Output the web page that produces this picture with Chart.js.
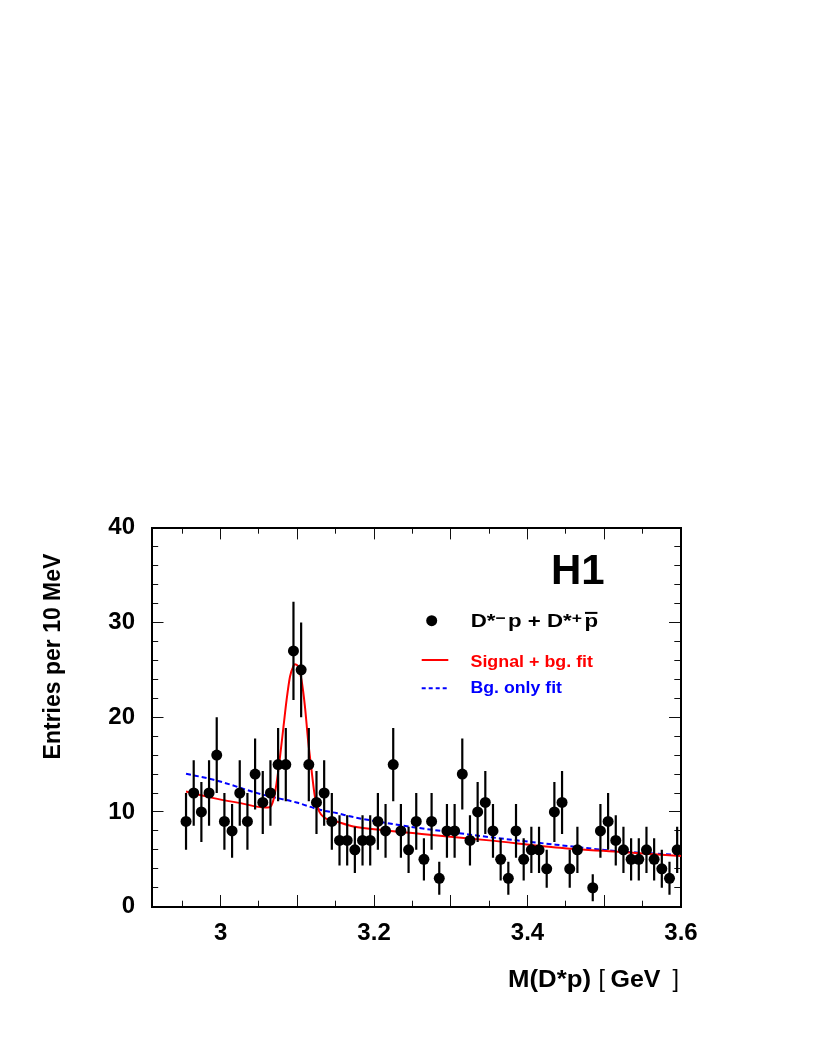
<!DOCTYPE html>
<html>
<head>
<meta charset="utf-8">
<script src="https://cdn.jsdelivr.net/npm/chart.js@4.4.1/dist/chart.umd.min.js"></script>
<style>
html,body{margin:0;padding:0;background:#fff;}
canvas{display:block;}
</style>
</head>
<body>
<canvas id="c" width="817" height="1058"></canvas>
<script>
// ---- data ----
const binCenters = [2.955,2.965,2.975,2.985,2.995,3.005,3.015,3.025,3.035,3.045,3.055,3.065,3.075,3.085,3.095,3.105,3.115,3.125,3.135,3.145,3.155,3.165,3.175,3.185,3.195,3.205,3.215,3.225,3.235,3.245,3.255,3.265,3.275,3.285,3.295,3.305,3.315,3.325,3.335,3.345,3.355,3.365,3.375,3.385,3.395,3.405,3.415,3.425,3.435,3.445,3.455,3.465,3.475,3.485,3.495,3.505,3.515,3.525,3.535,3.545,3.555,3.565,3.575,3.585,3.595];
const counts = [9,12,10,12,16,9,8,12,9,14,11,12,15,15,27,25,15,11,12,9,7,7,6,7,7,9,8,15,8,6,9,5,9,3,8,8,14,7,10,11,8,5,3,8,5,6,6,4,10,11,4,6,null,2,8,9,7,6,5,5,6,5,4,3,6];

const sigFitX = [2.955,2.991,3.026,3.058,3.064,3.069,3.073,3.0775,3.082,3.086,3.0905,3.095,3.097,3.101,3.1055,3.110,3.114,3.119,3.123,3.1285,3.136,3.151,3.173,3.216,3.259,3.303,3.350,3.437,3.523,3.600];
const sigFitY = [12.16,11.46,10.93,10.47,10.5,11.3,13.05,15.85,19.0,21.8,24.3,25.4,25.6,25.35,23.9,21.1,17.6,14.1,11.6,10.05,9.36,9.0,8.47,8.05,7.7,7.35,7.0,6.26,5.77,5.36];

const bgFitX = [2.955,2.991,3.056,3.099,3.1295,3.151,3.173,3.216,3.259,3.303,3.350,3.437,3.523,3.600];
const bgFitY = [14.03,13.4,11.8,11.0,10.23,9.88,9.46,8.83,8.3,7.84,7.35,6.54,5.83,5.45];

const xMajorTicks = [3.0,3.1,3.2,3.3,3.4,3.5,3.6];
const xMinorTicks = [2.95,3.05,3.15,3.25,3.35,3.45,3.55];
const xLabelTicks = [3.0,3.2,3.4,3.6];
const yMajorTicks = [0,10,20,30,40];
const yMinorTicks = [2,4,6,8,12,14,16,18,22,24,26,28,32,34,36,38];

const yTitle = 'Entries per 10 MeV';
const labelSig = 'Signal + bg. fit';
const labelBg = 'Bg. only fit';

// ---- derived datasets ----
const pointData = [];
const errData = [];
binCenters.forEach((x, i) => {
  const n = counts[i];
  if (n === null) return;
  pointData.push({x: x, y: n});
  const e = Math.sqrt(n);
  errData.push({x: x, y: n - e}, {x: x, y: n + e}, {x: x, y: null});
});
const sigData = sigFitX.map((x, i) => ({x: x, y: sigFitY[i]}));
const bgData = bgFitX.map((x, i) => ({x: x, y: bgFitY[i]}));

const FONT = '"Liberation Sans", Arial, Helvetica, sans-serif';
Chart.defaults.font.family = FONT;

const setTicks = arr => s => { s.ticks = arr.map(v => ({value: v})); };
const fixH = h => s => { s.height = h; };
const fixW = w => s => { s.width = w; };
const tickFont = {family: FONT, size: 24, weight: 'bold'};

function axisCfg(pos, min, max, ticksArr, len, size, weight, extra) {
  const horiz = (pos === 'top' || pos === 'bottom');
  const cfg = {
    type: 'linear', position: pos, min: min, max: max, weight: weight,
    afterBuildTicks: setTicks(ticksArr),
    afterFit: horiz ? fixH(size) : fixW(size),
    grid: {drawOnChartArea: false, drawTicks: true, tickLength: len, tickColor: '#111', tickWidth: 1},
    border: {display: true, color: '#000', width: 2},
    ticks: {display: false}
  };
  return Object.assign(cfg, extra || {});
}

const xMin = 2.91, xMax = 3.6, yMin = 0, yMax = 40;

const scales = {
  x: axisCfg('bottom', xMin, xMax, xMajorTicks, -11.7, 151.3, 1, {
    ticks: {display: true, font: tickFont, color: '#000', padding: 23.5, maxRotation: 0, minRotation: 0, autoSkip: false,
      callback: v => xLabelTicks.some(t => Math.abs(t - v) < 1e-6) ? String(Math.round(v * 10) / 10) : ''}
  }),
  xMinor: axisCfg('bottom', xMin, xMax, xMinorTicks, -6, 0, 0, {border: {display: false}}),
  xTop: axisCfg('top', xMin, xMax, xMajorTicks, -11.7, 0, 1),
  xTopMinor: axisCfg('top', xMin, xMax, xMinorTicks, -6, 0, 0, {border: {display: false}}),
  y: axisCfg('left', yMin, yMax, yMajorTicks, -12, 151.5, 1, {
    ticks: {display: true, font: tickFont, color: '#000', padding: 28.5, autoSkip: false, callback: v => String(v)}
  }),
  yMinor: axisCfg('left', yMin, yMax, yMinorTicks, -6.7, 0, 0, {border: {display: false}}),
  yRight: axisCfg('right', yMin, yMax, yMajorTicks, -12, 0, 1),
  yRightMinor: axisCfg('right', yMin, yMax, yMinorTicks, -6.7, 0, 0, {border: {display: false}})
};

// draw a text piece stretched to a target width, left edge at x
function stretchText(ctx, text, font, x, y, targetW) {
  ctx.font = font;
  const w = ctx.measureText(text).width;
  ctx.save();
  ctx.translate(x, y);
  ctx.scale(targetW / w, 1);
  ctx.fillText(text, 0, 0);
  ctx.restore();
}

const annotations = {
  id: 'annotations',
  afterDraw(chart) {
    const ctx = chart.ctx;
    ctx.save();
    ctx.fillStyle = '#000';
    ctx.textBaseline = 'alphabetic';
    ctx.textAlign = 'left';

    // x axis title: M(D*p) [ GeV ]
    const tb = 'bold 23px ' + FONT, tn = '23px ' + FONT;
    stretchText(ctx, 'M(D*p)', tb, 508, 987, 83);
    stretchText(ctx, '[', tn, 598.5, 987, 6.5);
    stretchText(ctx, 'GeV', tb, 610.5, 987, 50);
    stretchText(ctx, ']', tn, 672.5, 987, 6.5);

    // y axis title
    ctx.save();
    ctx.translate(59.5, 656.5);
    ctx.rotate(-Math.PI / 2);
    ctx.textAlign = 'center';
    ctx.font = 'bold 23px ' + FONT;
    ctx.fillText(yTitle, 0, 0);
    ctx.restore();

    // H1
    ctx.font = 'bold 42px ' + FONT;
    ctx.fillText('H1', 551, 584.3);

    // legend: data marker
    ctx.beginPath();
    ctx.arc(431.7, 620.7, 5.5, 0, Math.PI * 2);
    ctx.fill();

    // legend: D*- p + D*+ pbar
    const big = 'bold 19px ' + FONT, small = 'bold 15px ' + FONT;
    const parts = [
      {t: 'D', f: big, r: 0}, {t: '*', f: big, r: 0}, {t: '\u2212', f: small, r: 4},
      {t: 'p', f: big, r: 0, gap: 2}, {t: ' + ', f: big, r: 0}, {t: 'D', f: big, r: 0},
      {t: '*', f: big, r: 0}, {t: '+', f: small, r: 4}, {t: 'p', f: big, r: 0, bar: true, gap: 2}
    ];
    let total = 0;
    parts.forEach(p => { ctx.font = p.f; p.w = ctx.measureText(p.t).width; total += p.w + (p.gap || 0); });
    const sx = 127.3 / total;
    ctx.save();
    ctx.translate(470.7, 626.7);
    ctx.scale(sx, 1);
    let cx = 0;
    parts.forEach(p => {
      cx += (p.gap || 0);
      ctx.font = p.f;
      ctx.fillText(p.t, cx, -p.r);
      if (p.bar) ctx.fillRect(cx + 0.5, -14.8, p.w - 1, 2);
      cx += p.w;
    });
    ctx.restore();

    // legend: fit lines
    ctx.lineWidth = 2;
    ctx.strokeStyle = '#ff0000';
    ctx.beginPath(); ctx.moveTo(421.7, 660); ctx.lineTo(448.3, 660); ctx.stroke();
    ctx.strokeStyle = '#0000ff';
    ctx.setLineDash([4, 3]);
    ctx.beginPath(); ctx.moveTo(421.7, 688.3); ctx.lineTo(448.3, 688.3); ctx.stroke();
    ctx.setLineDash([]);

    ctx.fillStyle = '#ff0000';
    stretchText(ctx, labelSig, 'bold 17px ' + FONT, 470.5, 666.7, 122.5);
    ctx.fillStyle = '#0000ff';
    stretchText(ctx, labelBg, 'bold 17px ' + FONT, 470.5, 693.3, 91.5);
    ctx.restore();
  }
};

new Chart(document.getElementById('c'), {
  type: 'scatter',
  data: {
    datasets: [
      {label: 'D*-p + D*+pbar', type: 'scatter', data: pointData, pointRadius: 5.5, pointHoverRadius: 5.5,
        backgroundColor: '#000', borderWidth: 0, pointStyle: 'circle'},
      {label: 'errors', type: 'line', data: errData, showLine: true, spanGaps: false, borderColor: '#000',
        borderWidth: 2.2, pointRadius: 0, fill: false},
      {label: labelSig, type: 'line', data: sigData, borderColor: '#ff0000', borderWidth: 2, pointRadius: 0,
        fill: false, cubicInterpolationMode: 'monotone'},
      {label: labelBg, type: 'line', data: bgData, borderColor: '#0000ff', borderWidth: 2, borderDash: [5, 3],
        pointRadius: 0, fill: false, cubicInterpolationMode: 'monotone'}
    ]
  },
  options: {
    responsive: false,
    devicePixelRatio: 1,
    animation: false,
    events: [],
    layout: {padding: {left: 0, right: 136, top: 527.7, bottom: 0}},
    plugins: {legend: {display: false}, tooltip: {enabled: false}},
    scales: scales
  },
  plugins: [annotations]
});
</script>
</body>
</html>
